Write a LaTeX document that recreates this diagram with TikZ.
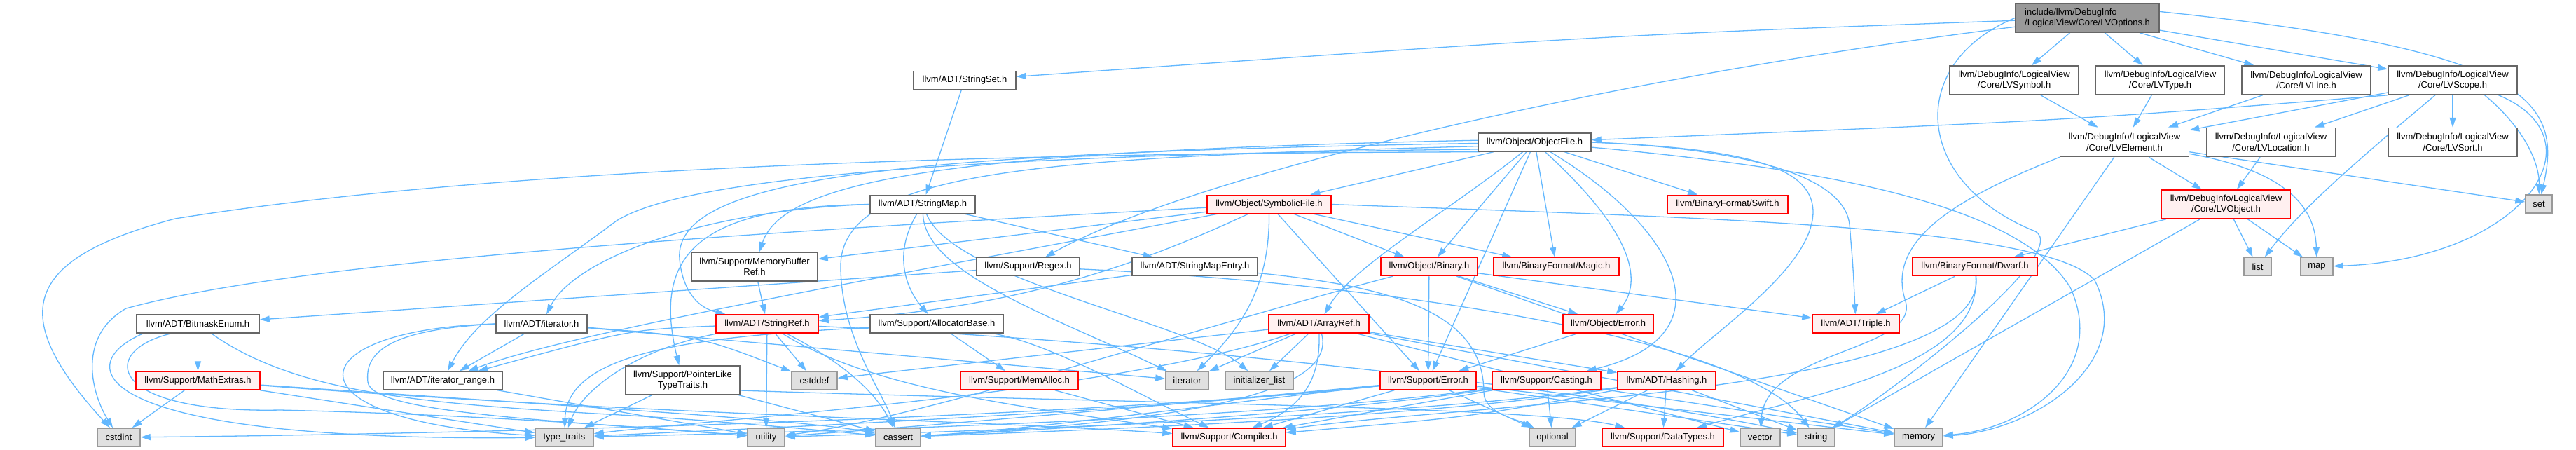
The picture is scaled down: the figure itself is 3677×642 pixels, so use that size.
\documentclass[tikz,border=0pt]{standalone}
\usepackage{fontspec}
\setmainfont{Liberation Sans}
\usetikzlibrary{arrows.meta}
\definecolor{edgec}{HTML}{63B8FF}
\definecolor{redfill}{HTML}{FFF0F0}
\definecolor{sysfill}{HTML}{E0E0E0}
\definecolor{sysdraw}{HTML}{999999}
\definecolor{normdraw}{HTML}{666666}
\definecolor{rootfill}{HTML}{999999}
\pgfdeclarelayer{edgelayer}
\pgfsetlayers{edgelayer,main}
\tikzset{
  box/.style={rectangle, inner sep=0pt, line width=1.5pt, font=\fontsize{13}{15.5}\selectfont, text=black, align=center},
  wn/.style={box, draw=normdraw, fill=white},
  rn/.style={box, draw=red, fill=redfill},
  gn/.style={box, draw=sysdraw, fill=sysfill},
  rootn/.style={box, draw=normdraw, fill=rootfill, align=left},
  e/.style={draw=edgec, line width=1.3pt, -{Triangle[length=14pt,width=9pt]}},
}
\newcommand\mkbox[7]{\node[#1, minimum width=#5pt, minimum height=#6pt] (#2) at (#3,#4) {#7};}
\begin{document}
\begin{tikzpicture}[x=1pt,y=-1pt]
\useasboundingbox (0,0) rectangle (3677,642);
% row 0
\mkbox{rootn}{opt}{2979.5}{25.5}{205}{41}{include/llvm/DebugInfo\\/LogicalView/Core/LVOptions.h}
% row 1
\mkbox{wn}{sset}{1377}{114.5}{146}{26}{llvm/ADT/StringSet.h}
\mkbox{wn}{sym}{2875}{114.5}{184}{41}{llvm/DebugInfo/LogicalView\\/Core/LVSymbol.h}
\mkbox{wn}{typ}{3083.5}{114.5}{184}{41}{llvm/DebugInfo/LogicalView\\/Core/LVType.h}
\mkbox{wn}{lline}{3292}{114.5}{184}{41}{llvm/DebugInfo/LogicalView\\/Core/LVLine.h}
\mkbox{wn}{scope}{3501}{114.5}{184}{41}{llvm/DebugInfo/LogicalView\\/Core/LVScope.h}
% row 2
\mkbox{wn}{obj}{2190.5}{203}{161}{26}{llvm/Object/ObjectFile.h}
\mkbox{wn}{elem}{3032.5}{203}{184}{41}{llvm/DebugInfo/LogicalView\\/Core/LVElement.h}
\mkbox{wn}{loc}{3241.5}{203}{184}{41}{llvm/DebugInfo/LogicalView\\/Core/LVLocation.h}
\mkbox{wn}{sort}{3501}{203}{184}{41}{llvm/DebugInfo/LogicalView\\/Core/LVSort.h}
% row 3
\mkbox{wn}{smap}{1317}{291.5}{150}{26}{llvm/ADT/StringMap.h}
\mkbox{rn}{symf}{1811.5}{291.5}{177}{26}{llvm/Object/SymbolicFile.h}
\mkbox{rn}{swift}{2466}{291.5}{172}{26}{llvm/BinaryFormat/Swift.h}
\mkbox{rn}{lvobj}{3177.5}{291.5}{184}{41}{llvm/DebugInfo/LogicalView\\/Core/LVObject.h}
\mkbox{gn}{set}{3624}{291}{38}{26}{set}
% row 4
\mkbox{wn}{mbr}{1077}{380.5}{180}{41}{llvm/Support/MemoryBuffer\\Ref.h}
\mkbox{wn}{regex}{1467.5}{380.5}{147}{26}{llvm/Support/Regex.h}
\mkbox{wn}{smentry}{1705.5}{380.5}{179}{26}{llvm/ADT/StringMapEntry.h}
\mkbox{rn}{binary}{2040}{380.5}{138}{26}{llvm/Object/Binary.h}
\mkbox{rn}{magic}{2221.5}{380.5}{179}{26}{llvm/BinaryFormat/Magic.h}
\mkbox{rn}{dwarf}{2819}{380.5}{178}{26}{llvm/BinaryFormat/Dwarf.h}
\mkbox{gn}{list}{3222.5}{380.5}{39}{26}{list}
\mkbox{gn}{map}{3307}{380.5}{46}{26}{map}
% row 5
\mkbox{wn}{bitmask}{282.5}{462}{175}{26}{llvm/ADT/BitmaskEnum.h}
\mkbox{wn}{iter}{773}{462}{130}{26}{llvm/ADT/iterator.h}
\mkbox{rn}{sref}{1095}{462}{146}{26}{llvm/ADT/StringRef.h}
\mkbox{wn}{alloc}{1337}{462}{190}{26}{llvm/Support/AllocatorBase.h}
\mkbox{rn}{aref}{1882.5}{462}{143}{26}{llvm/ADT/ArrayRef.h}
\mkbox{rn}{oerr}{2295.5}{462}{129}{26}{llvm/Object/Error.h}
\mkbox{rn}{triple}{2649}{462}{124}{26}{llvm/ADT/Triple.h}
% row 6
\mkbox{rn}{mathx}{282.5}{543}{177}{26}{llvm/Support/MathExtras.h}
\mkbox{wn}{irange}{632}{543}{170}{26}{llvm/ADT/iterator\_range.h}
\mkbox{wn}{pltt}{974.5}{542.5}{163}{41}{llvm/Support/PointerLike\\TypeTraits.h}
\mkbox{gn}{cstddef}{1162.5}{543}{65}{26}{cstddef}
\mkbox{rn}{memalloc}{1455}{543}{168}{26}{llvm/Support/MemAlloc.h}
\mkbox{gn}{iterstd}{1694.5}{543}{61}{26}{iterator}
\mkbox{gn}{initl}{1797.5}{543}{97}{26}{initializer\_list}
\mkbox{rn}{serr}{2038.5}{543}{137}{26}{llvm/Support/Error.h}
\mkbox{rn}{cast}{2207.5}{543}{155}{26}{llvm/Support/Casting.h}
\mkbox{rn}{hash}{2379}{543}{140}{26}{llvm/ADT/Hashing.h}
% row 7
\mkbox{gn}{cstdint}{169.5}{624}{61}{26}{cstdint}
\mkbox{gn}{ttraits}{805.5}{624}{83}{26}{type\_traits}
\mkbox{gn}{utility}{1093.5}{624}{53}{26}{utility}
\mkbox{gn}{cassert}{1282}{624}{64}{26}{cassert}
\mkbox{rn}{compiler}{1754.5}{624}{161}{26}{llvm/Support/Compiler.h}
\mkbox{gn}{optional}{2216}{624}{66}{26}{optional}
\mkbox{rn}{dtypes}{2373.5}{624}{173}{26}{llvm/Support/DataTypes.h}
\mkbox{gn}{vector}{2512.5}{624}{57}{26}{vector}
\mkbox{gn}{string}{2592.5}{624}{53}{26}{string}
\mkbox{gn}{memory}{2738.5}{624}{69}{26}{memory}

\begin{pgfonlayer}{edgelayer}
% LVOptions
\draw[e] (opt) .. controls (2300,50) .. (sset);
\draw[e] (opt) -- (sym);
\draw[e] (opt) -- (typ);
\draw[e] (opt) -- (lline);
\draw[e] (opt) -- (scope);
\draw[e] (opt.5) .. controls (3600,70) and (3660,140) .. (set);
\draw[e] (opt) .. controls (2300,110) and (1700,250) .. (regex);
\draw[e] (opt.west) .. controls (2720,90) and (2730,260) .. (2905,330) .. controls (2960,360) and (2700,560) .. (string);
% symbol/type/line
\draw[e] (sym) -- (elem);
\draw[e] (typ) -- (elem);
\draw[e] (lline) -- (elem);
% LVScope
\draw[e] (scope) -- (elem);
\draw[e] (scope) -- (loc);
\draw[e] (scope) -- (sort);
\draw[e] (scope.south west) .. controls (2950,172) .. (obj);
\draw[e] (scope) .. controls (3400,200) and (3290,290) .. (list);
\draw[e] (scope.-25) .. controls (3600,180) and (3625,230) .. (set);
\draw[e] (scope.-18) .. controls (3720,200) and (3600,370) .. (map);
% LVElement
\draw[e] (elem) -- (lvobj);
\draw[e] (elem) -- (set);
\draw[e] (elem) .. controls (3270,245) and (3305,300) .. (map);
\draw[e] (elem.south west) .. controls (2800,280) and (2690,340) .. (2720,430) .. controls (2740,500) and (2520,500) .. (vector);
\draw[e] (elem) -- (memory);
% LVLocation
\draw[e] (loc) -- (lvobj);
% LVObject
\draw[e] (lvobj) -- (dwarf);
\draw[e] (lvobj) -- (list);
\draw[e] (lvobj) -- (map);
\draw[e] (lvobj) -- (string);
% ObjectFile
\draw[e] (obj) -- (symf);
\draw[e] (obj) .. controls (2070,300) and (1930,380) .. (aref);
\draw[e] (obj) -- (binary);
\draw[e] (obj) -- (magic);
\draw[e] (obj) -- (swift);
\draw[e] (obj) .. controls (2330,330) and (2345,400) .. (oerr);
\draw[e] (obj) .. controls (2400,330) and (2470,480) .. (cast);
\draw[e] (obj.east) .. controls (2500,212) and (2585,240) .. (2588,300) .. controls (2590,380) and (2450,470) .. (hash);
\draw[e] (obj.east) .. controls (2450,210) and (2630,240) .. (2640,320) .. controls (2645,380) .. (triple);
\draw[e] (obj.-5) .. controls (2600,240) and (2880,290) .. (2955,410) .. controls (3010,530) and (2890,612) .. (memory);
\draw[e] (obj) -- (serr);
\draw[e] (obj.178) .. controls (1400,215) and (1120,250) .. (mbr);
\draw[e] (obj.181) .. controls (1300,218) and (960,250) .. (970,370) .. controls (975,420) and (1000,440) .. (sref);
\draw[e] (obj.184) .. controls (1500,225) and (1200,240) .. (1200,380) .. controls (1200,480) and (1260,560) .. (cassert);
\draw[e] (obj.187) .. controls (1250,222) and (960,265) .. (880,315) .. controls (780,390) and (680,450) .. (irange);
\draw[e] (obj.190) .. controls (1400,218) and (700,240) .. (250,312) .. controls (30,370) and (10,450) .. (cstdint);
% StringSet
\draw[e] (sset) -- (smap);
% StringMap
\draw[e] (smap) -- (smentry);
\draw[e] (smap) .. controls (1270,370) and (1300,420) .. (alloc);
\draw[e] (smap) .. controls (1320,390) and (1500,450) .. (iterstd);
\draw[e] (smap) .. controls (1360,400) and (1700,460) .. (initl);
\draw[e] (smap.west) .. controls (1000,300) and (820,370) .. (iter);
\draw[e] (smap.west) .. controls (1000,295) and (930,360) .. (pltt);
% SymbolicFile
\draw[e] (symf) -- (binary);
\draw[e] (symf) -- (magic);
\draw[e] (symf) -- (serr);
\draw[e] (symf) .. controls (1812,400) and (1780,460) .. (iterstd);
\draw[e] (symf) -- (mbr);
\draw[e] (symf) .. controls (1150,415) and (800,480) .. (irange);
\draw[e] (symf) .. controls (900,340) and (400,380) .. (180,440) .. controls (110,480) and (130,560) .. (cstdint);
\draw[e] (symf) .. controls (1620,380) and (1450,440) .. (sref);
\draw[e] (symf.east) .. controls (2400,310) and (2920,320) .. (2990,400) .. controls (3050,520) and (2900,615) .. (memory);
% MemoryBufferRef
\draw[e] (mbr) -- (sref);
% Regex
\draw[e] (regex) -- (bitmask);
\draw[e] (regex) .. controls (1900,400) and (2480,470) .. (string);
% StringMapEntry
\draw[e] (smentry) -- (sref);
\draw[e] (smentry) .. controls (2000,410) and (2118,450) .. (2118,560) .. controls (2118,590) and (2170,600) .. (optional);
% AllocatorBase
\draw[e] (alloc) -- (memalloc);
\draw[e] (alloc) .. controls (1500,490) and (1620,560) .. (compiler);
\draw[e] (alloc) .. controls (1000,480) and (810,500) .. (ttraits);
% MemAlloc
\draw[e] (memalloc) -- (compiler);
% PointerLikeTypeTraits
\draw[e] (pltt) -- (ttraits);
\draw[e] (pltt) -- (cassert);
\draw[e] (pltt.-10) .. controls (1600,575) and (2200,580) .. (dtypes);
% iterator.h
\draw[e] (iter) -- (irange);
\draw[e] (iter) .. controls (1000,480) .. (cstddef);
\draw[e] (iter) -- (iterstd);
\draw[e] (iter.west) .. controls (420,470) and (400,600) .. (ttraits);
\draw[e] (iter.west) .. controls (560,470) and (520,500) .. (525,545) .. controls (530,590) and (800,600) .. (utility);
% iterator_range
\draw[e] (irange) -- (utility);
% BitmaskEnum
\draw[e] (bitmask) -- (mathx);
\draw[e] (bitmask.-170) .. controls (100,520) and (120,630) .. (ttraits);
\draw[e] (bitmask.-160) .. controls (140,500) and (150,590) .. (400,585) .. controls (700,592) and (950,612) .. (utility);
\draw[e] (bitmask) .. controls (420,560) and (600,575) .. (850,590) .. controls (1000,598) and (1150,612) .. (cassert);
% MathExtras
\draw[e] (mathx) -- (cstdint);
\draw[e] (mathx) -- (ttraits);
\draw[e] (mathx) .. controls (900,590) and (1400,600) .. (compiler);
\draw[e] (mathx) .. controls (900,585) and (1150,600) .. (cassert);
% StringRef
\draw[e] (sref) -- (utility);
\draw[e] (sref) -- (cstddef);
\draw[e] (sref) .. controls (1230,530) and (1260,580) .. (cassert);
\draw[e] (sref) .. controls (1250,560) and (1500,585) .. (compiler);
\draw[e] (sref) .. controls (900,470) .. (irange);
\draw[e] (sref) .. controls (900,500) and (830,560) .. (ttraits);
\draw[e] (sref) .. controls (1700,490) and (2300,560) .. (string);
% ArrayRef
\draw[e] (aref) -- (hash);
\draw[e] (aref) -- (initl);
\draw[e] (aref) -- (iterstd);
\draw[e] (aref) .. controls (1885,540) and (1860,580) .. (compiler);
\draw[e] (aref) .. controls (1910,560) and (1700,600) .. (cassert);
\draw[e] (aref) -- (cstddef);
\draw[e] (aref) .. controls (1600,560) and (1000,600) .. (ttraits);
\draw[e] (aref) -- (memory);
\draw[e] (aref) -- (vector);
% Binary
\draw[e] (binary) -- (oerr);
\draw[e] (binary) -- (serr);
\draw[e] (binary) -- (triple);
\draw[e] (binary) -- (memory);
\draw[e] (binary) .. controls (1700,470) and (1300,600) .. (utility);
% Object/Error
\draw[e] (oerr) -- (serr);
% Support/Error
\draw[e] (serr) -- (optional);
\draw[e] (serr) -- (compiler);
\draw[e] (serr) .. controls (1700,580) and (1500,610) .. (cassert);
\draw[e] (serr) .. controls (1700,575) and (1300,610) .. (utility);
\draw[e] (serr) .. controls (1500,600) and (600,620) .. (cstdint);
\draw[e] (serr) .. controls (1600,590) and (1000,615) .. (ttraits);
\draw[e] (serr) -- (string);
\draw[e] (serr) -- (memory);
% Casting
\draw[e] (cast) -- (optional);
\draw[e] (cast) .. controls (2000,580) .. (compiler);
\draw[e] (cast) .. controls (1900,590) and (1500,612) .. (cassert);
\draw[e] (cast) -- (memory);
\draw[e] (cast) .. controls (1800,600) and (1100,618) .. (ttraits);
% Hashing
\draw[e] (hash) -- (dtypes);
\draw[e] (hash) -- (optional);
\draw[e] (hash) -- (string);
\draw[e] (hash) .. controls (2100,595) .. (compiler);
\draw[e] (hash) .. controls (2000,600) and (1500,615) .. (cassert);
\draw[e] (hash) .. controls (2000,595) and (1400,615) .. (utility);
% Dwarf
\draw[e] (dwarf) -- (triple);
\draw[e] (dwarf) .. controls (2830,520) and (2600,560) .. (dtypes);
\draw[e] (dwarf) .. controls (2840,560) and (2100,575) .. (compiler);
\end{pgfonlayer}
\end{tikzpicture}
\end{document}
